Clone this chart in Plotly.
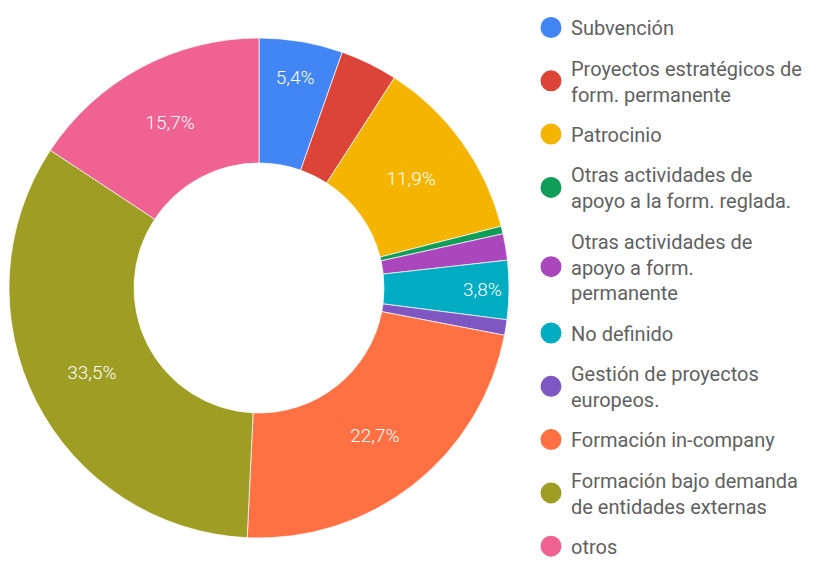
import plotly.graph_objects as go

LABELS = [
    "Subvención",
    "Proyectos estratégicos de<br>form. permanente",
    "Patrocinio",
    "Otras actividades de<br>apoyo a la form. reglada.",
    "Otras actividades de<br>apoyo a form.<br>permanente",
    "No definido",
    "Gestión de proyectos<br>europeos.",
    "Formación in-company",
    "Formación bajo demanda<br>de entidades externas",
    "otros",
]
VALUES = [5.4, 3.7, 11.9, 0.5, 1.7, 3.8, 1.0, 22.7, 33.5, 15.7]
SHOW_LABEL = [True, False, True, False, False, True, False, True, True, True]
COLORS = ["#4285F4", "#DB4437", "#F4B400", "#0F9D58", "#AB47BC",
          "#00ACC1", "#7E57C2", "#FF7043", "#9E9D24", "#F06292"]

W, H = 814, 562
PAD = 8                    # the page body margin shifts everything by 8px
CX, CY, R = 259 - PAD, 288 - PAD, 250

fig = go.Figure()
fig.add_trace(go.Pie(
    labels=[l.replace("<br>", " ") for l in LABELS], values=VALUES,
    sort=False, direction="clockwise", rotation=0, hole=0.5,
    marker={"colors": COLORS, "line": {"color": "#FFFFFF", "width": 0.7}},
    texttemplate=["%{percent:.1%}" if s else "" for s in SHOW_LABEL],
    textposition="inside", insidetextorientation="horizontal",
    textfont={"family": "Roboto", "size": 19, "color": "#FFFFFF", "weight": 300},
    showlegend=False, hoverinfo="label+percent",
    domain={"x": [(CX - R) / W, (CX + R) / W],
            "y": [(H - CY - R) / H, (H - CY + R) / H]},
))

# legend entries: one dummy trace per category so items can be spaced apart
for i, (lab, col) in enumerate(zip(LABELS, COLORS)):
    fig.add_trace(go.Scatter(
        x=[None], y=[None], mode="markers", name=lab, legendgroup=str(i),
        marker={"color": col, "size": 16, "symbol": "circle",
                "line": {"color": col, "width": 5}},
        hoverinfo="skip",
    ))

fig.update_layout(
    width=W, height=H, separators=",.",
    paper_bgcolor="#FFFFFF", plot_bgcolor="#FFFFFF",
    margin={"l": 0, "r": 0, "t": 0, "b": 0},
    font={"family": "Roboto", "color": "#616161"},
    xaxis={"visible": False}, yaxis={"visible": False},
    legend={"x": (531 - PAD) / W, "xanchor": "left",
            "y": 1, "yanchor": "top",
            "font": {"size": 20, "color": "#616161"},
            "tracegroupgap": 11.3, "itemsizing": "trace",
            "bgcolor": "rgba(0,0,0,0)"},
)

fig.write_html("out.html")
